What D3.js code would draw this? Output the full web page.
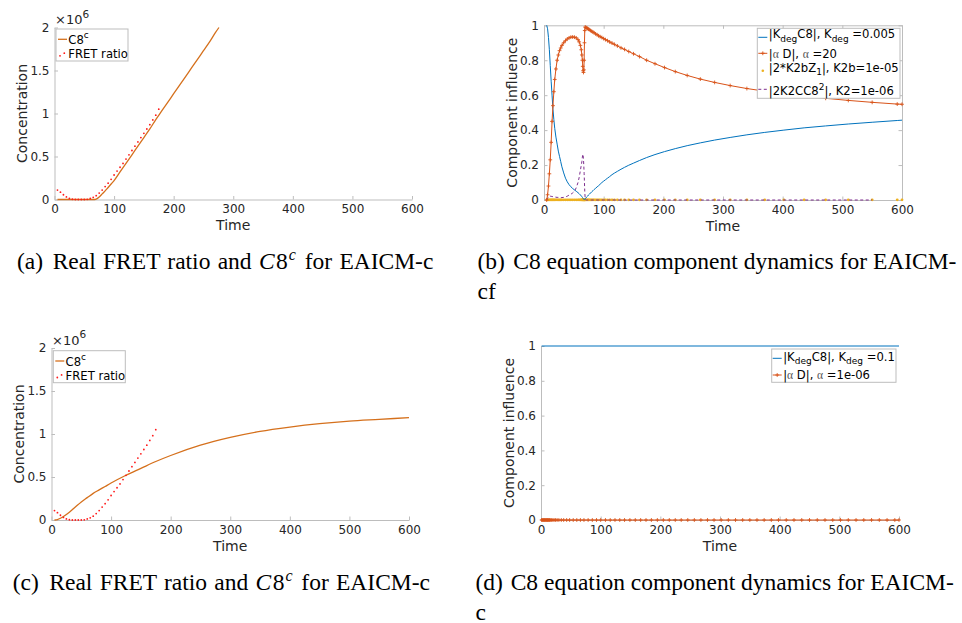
<!DOCTYPE html>
<html>
<head>
<meta charset="utf-8">
<script src="https://cdn.jsdelivr.net/npm/d3@7/dist/d3.min.js"></script>
<style>
  html, body { margin: 0; padding: 0; background: #fff; }
  svg { display: block; }
  .tick text { font-family: "DejaVu Sans", sans-serif; font-size: 12px; fill: #262626; }
  .axlabel { font-family: "DejaVu Sans", sans-serif; font-size: 14px; fill: #262626; }
  .leg { font-family: "DejaVu Sans", sans-serif; font-size: 11.6px; fill: #000; }
  .cap { font-family: "Liberation Serif", "Times New Roman", serif; font-size: 23.5px; fill: #000; }
</style>
</head>
<body>
<svg id="fig" width="962" height="623"></svg>
<script>
// ---- FRET measurements (panels a and c), concentration in units of 1e6
const fretTime = [5,10,15,20,25,30,35,40,45,50,55,60,65,70,75,80,85,90,95,100,105,110,115,120,125,130,135,140,145,150,155,160,165,170,175];
const fretValue = [0.11,0.085,0.055,0.03,0.012,0.003,0,0,0,0,0.002,0.012,0.025,0.045,0.075,0.11,0.15,0.19,0.235,0.285,0.33,0.375,0.42,0.47,0.52,0.57,0.62,0.67,0.72,0.77,0.82,0.87,0.925,0.98,1.05];

// ---- simulated C8c, EAICM-cf fit (panel a)
const c8TimeA = [5,20,40,60,65,68,70,75,80,85,90,95,100,110,120,130,140,150,160,170,180,190,200,210,220,230,240,250,260,270,276];
const c8ValueA = [0,0,0,0,0,0,0.005,0.03,0.065,0.1,0.14,0.18,0.22,0.32,0.42,0.52,0.62,0.72,0.82,0.93,1.03,1.13,1.23,1.33,1.43,1.53,1.63,1.73,1.83,1.94,2.0];

// ---- simulated C8c, EAICM-c fit (panel c)
const c8TimeC = [5,10,15,20,30,40,50,60,70,80,90,100,125,150,175,200,250,300,350,400,450,500,550,600];
const c8ValueC = [0,0.005,0.02,0.04,0.09,0.15,0.21,0.26,0.31,0.35,0.39,0.43,0.52,0.6,0.68,0.75,0.87,0.96,1.03,1.08,1.12,1.15,1.17,1.19];

// ---- C8 equation components, EAICM-cf (panel b), one value per solver step
const compTimeB = [4.5,6,7.5,9,10.5,12,13.5,15,16.5,18,20,22,24,26,28,30,33,36,39,42,45,48,51,54,57,59,61,62.5,63.5,64.3,65,65.6,66.2,66.8,67.3,67.8,68.3,69,
  70,71.5,73,74.5,76,78,80,82,84,86.5,89,91.5,94,97,100,103,106.5,110,114,118,123,129,135,142,150,160,172,186,202,220,240,262,286,312,340,370,402,436,472,510,550,592,600];
const degTermB = [1,0.98,0.93,0.86,0.77,0.68,0.6,0.52,0.46,0.41,0.36,0.32,0.28,0.25,0.22,0.19,0.155,0.125,0.104,0.088,0.076,0.066,0.058,0.05,0.042,0.036,0.029,0.023,0.019,0.015,0.012,0.009,0.006,0.003,0.001,0.002,0.004,0.007,
  0.011,0.017,0.022,0.028,0.033,0.04,0.047,0.053,0.06,0.067,0.075,0.082,0.09,0.1,0.108,0.116,0.125,0.134,0.145,0.154,0.164,0.176,0.187,0.199,0.211,0.226,0.243,0.26,0.277,0.294,0.311,0.327,0.343,0.358,0.373,0.387,0.4,0.413,0.424,0.435,0.445,0.455,0.457];
const alphaTermB = [0,0.03,0.08,0.15,0.23,0.33,0.45,0.54,0.62,0.69,0.75,0.8,0.83,0.855,0.87,0.885,0.9,0.912,0.922,0.928,0.932,0.933,0.932,0.928,0.918,0.905,0.885,0.86,0.83,0.8,0.765,0.74,0.73,0.745,0.8,0.9,0.97,0.99,
  0.988,0.985,0.982,0.978,0.975,0.97,0.966,0.961,0.957,0.951,0.946,0.94,0.935,0.93,0.924,0.918,0.912,0.905,0.898,0.891,0.882,0.871,0.862,0.85,0.837,0.821,0.8,0.78,0.758,0.735,0.713,0.692,0.673,0.655,0.638,0.623,0.609,0.595,0.582,0.57,0.559,0.549,0.548];
const k2bTermB = [0.001,0.001,0.001,0.001,0.001,0.001,0.001,0.001,0.001,0.001,0.001,0.001,0.001,0.001,0.001,0.001,0.001,0.001,0.001,0.001,0.001,0.001,0.001,0.001,0.001,0.001,0.001,0.001,0.001,0.001,0.001,0.001,0.001,0.001,0.001,0.001,0.001,0.001,
  0.001,0.001,0.001,0.001,0.001,0.001,0.001,0.001,0.001,0.001,0.001,0.001,0.001,0.001,0.001,0.001,0.001,0.001,0.001,0.001,0.001,0.001,0.001,0.001,0.001,0.001,0.001,0.001,0.001,0.001,0.001,0.001,0.001,0.001,0.001,0.001,0.001,0.001,0.001,0.001,0.001,0.001,0.001];
const k2TermB = [0,0.01,0.02,0.022,0.022,0.021,0.02,0.019,0.018,0.017,0.016,0.015,0.015,0.014,0.014,0.014,0.015,0.017,0.022,0.028,0.033,0.04,0.05,0.07,0.1,0.13,0.17,0.2,0.22,0.245,0.262,0.255,0.23,0.19,0.15,0.1,0.05,0.01,
  0,0,0,0,0,0,0,0,0,0,0,0,0,0,0,0,0,0,0,0,0,0,0,0,0,0,0,0,0,0,0,0,0,0,0,0,0,0,0,0,0];

// ---- C8 equation components, EAICM-c (panel d)
const compTimeD = [1,2,3,4,5,6,7,8,9,10,11,12,13,14,15,16.5,18,20,22,24.5,27,30,34,38,43,48,54,60,66,72,79,86,93,100,108,116,124,132,140,149,158,167,176,185,195,205,215,225,235,246,257,268,279,290,302,314,326,338,350,362,374,386,398,411,424,437,450,463,476,489,502,515,528,541,554,567,580,593,600];
const degTermD = [1,1,1,1,1,1,1,1,1,1,1,1,1,1,1,1,1,1,1,1,1,1,1,1,1,1,1,1,1,1,1,1,1,1,1,1,1,1,1,1,1,1,1,1,1,1,1,1,1,1,1,1,1,1,1,1,1,1,1,1,1,1,1,1,1,1,1,1,1,1,1,1,1,1,1,1,1,1,1];
const alphaTermD = [0,0,0,0,0,0,0,0,0,0,0,0,0,0,0,0,0,0,0,0,0,0,0,0,0,0,0,0,0,0,0,0,0,0,0,0,0,0,0,0,0,0,0,0,0,0,0,0,0,0,0,0,0,0,0,0,0,0,0,0,0,0,0,0,0,0,0,0,0,0,0,0,0,0,0,0,0,0,0];

// ---- axis ticks
const timeTicks = [0,100,200,300,400,500,600];
const concTicks = [0,0.5,1,1.5,2];
const concTickLabels = ["0","0.5","1","1.5","2"];
const inflTicks = [0,0.2,0.4,0.6,0.8,1];
const inflTickLabels = ["0","0.2","0.4","0.6","0.8","1"];

const COL = {
  blue: "#0072BD", red: "#D95319", yellow: "#EDB120", purple: "#7E2F8E",
  c8: "#D5701C", fret: "#FF1A1A", axis: "#BDBDBD", text: "#262626"
};

const svg = d3.select("#fig");

function makePanel(p) {
  const g = svg.append("g");
  const x = d3.scaleLinear().domain([0, 600]).range([p.x0, p.x1]);
  const y = d3.scaleLinear().domain(p.yDomain).range([p.y1, p.y0]);
  const tick = 3.5;

  const styleAxis = sel => {
    sel.selectAll(".domain").attr("stroke", COL.axis).attr("stroke-width", 1);
    sel.selectAll(".tick line").attr("stroke", COL.axis);
  };

  g.append("g").attr("transform", `translate(0,${p.y1})`)
    .call(d3.axisBottom(x).tickValues(timeTicks).tickSizeInner(-tick).tickSizeOuter(0).tickPadding(5).tickFormat(d3.format("d")))
    .call(styleAxis);
  g.append("g").attr("transform", `translate(${p.x0},0)`)
    .call(d3.axisLeft(y).tickValues(p.yTicks).tickSizeInner(-tick).tickSizeOuter(0).tickPadding(5)
      .tickFormat((d, i) => p.yTickLabels[i]))
    .call(styleAxis);
  if (p.box) {
    g.append("g").attr("transform", `translate(0,${p.y0})`)
      .call(d3.axisTop(x).tickValues(timeTicks).tickSizeInner(-tick).tickSizeOuter(0).tickFormat(""))
      .call(styleAxis);
    g.append("g").attr("transform", `translate(${p.x1},0)`)
      .call(d3.axisRight(y).tickValues(p.yTicks).tickSizeInner(-tick).tickSizeOuter(0).tickFormat(""))
      .call(styleAxis);
  }
  g.selectAll(".tick text").attr("fill", COL.text);

  g.append("text").attr("class", "axlabel")
    .attr("x", (p.x0 + p.x1) / 2).attr("y", p.y1 + 30.5)
    .attr("text-anchor", "middle").text("Time");
  g.append("text").attr("class", "axlabel")
    .attr("transform", `translate(${p.ylabX},${(p.y0 + p.y1) / 2}) rotate(-90)`)
    .attr("text-anchor", "middle").text(p.ylabel);

  if (p.exponent) {
    const t = g.append("text").attr("x", p.x0 + 0.5).attr("y", p.y0 - 3.5)
      .attr("font-family", "DejaVu Sans").attr("font-size", 13).attr("fill", COL.text);
    t.append("tspan").text("×10");
    t.append("tspan").attr("font-size", 10.5).attr("dy", -6.5).text("6");
  }
  return { g, x, y };
}

function lineOf(x, y, curve) {
  return d3.line().x(d => x(d[0])).y(d => y(d[1])).curve(curve || d3.curveMonotoneX);
}
function zip(a, b) { return a.map((v, i) => [v, b[i]]); }

const plus = "M-1.9,0H1.9M0,-1.9V1.9";

// ---------- concentration panels (a) and (c)
function concPanel(p, c8t, c8v) {
  const { g, x, y } = makePanel(Object.assign({
    yDomain: [0, 2], yTicks: concTicks, yTickLabels: concTickLabels,
    ylabel: "Concentration", exponent: true, box: false
  }, p));
  g.append("path").datum(zip(c8t, c8v)).attr("d", lineOf(x, y))
    .attr("fill", "none").attr("stroke", COL.c8).attr("stroke-width", 1.3);
  g.selectAll("circle.fret").data(zip(fretTime, fretValue)).join("circle")
    .attr("class", "fret").attr("cx", d => x(d[0])).attr("cy", d => y(d[1]))
    .attr("r", 0.9).attr("fill", COL.fret);

  // legend
  const L = g.append("g").attr("transform", `translate(${p.legX},${p.legY})`);
  L.append("rect").attr("x", 0).attr("y", 0).attr("width", 72).attr("height", 32)
    .attr("fill", "#fff").attr("stroke", COL.axis).attr("stroke-width", 1);
  L.append("line").attr("x1", 2).attr("x2", 11).attr("y1", 10.3).attr("y2", 10.3)
    .attr("stroke", COL.c8).attr("stroke-width", 1.3);
  const t1 = L.append("text").attr("class", "leg").attr("x", 12.3).attr("y", 15);
  t1.append("tspan").text("C8");
  t1.append("tspan").attr("font-size", 9).attr("dy", -6).text("c");
  L.selectAll("circle").data([[4, 26.8], [8.3, 24.2]]).join("circle")
    .attr("cx", d => d[0]).attr("cy", d => d[1]).attr("r", 0.9).attr("fill", COL.fret);
  L.append("text").attr("class", "leg").attr("x", 12.3).attr("y", 29.3).text("FRET ratio");
}

concPanel({ x0: 54.5, x1: 412, y0: 27.5, y1: 199.5, ylabX: 26.5, legX: 56, legY: 29 }, c8TimeA, c8ValueA);
concPanel({ x0: 51.5, x1: 409, y0: 348, y1: 520, ylabX: 23.5, legX: 53.3, legY: 350.7 }, c8TimeC, c8ValueC);

// ---------- component panels (b) and (d)
function compPanel(p) {
  return makePanel(Object.assign({
    yDomain: [0, 1], yTicks: inflTicks, yTickLabels: inflTickLabels,
    ylabel: "Component influence", exponent: false
  }, p));
}

function legendRow(L, yc, kind) {
  if (kind === "blue") {
    L.append("line").attr("x1", 1).attr("x2", 10).attr("y1", yc).attr("y2", yc).attr("stroke", COL.blue);
  } else if (kind === "red") {
    L.append("line").attr("x1", 1).attr("x2", 10).attr("y1", yc).attr("y2", yc).attr("stroke", COL.red);
    L.append("path").attr("d", plus).attr("transform", `translate(5.5,${yc})`).attr("stroke", COL.red).attr("stroke-width", 0.9);
  } else if (kind === "yellow") {
    L.append("circle").attr("cx", 5.5).attr("cy", yc).attr("r", 1.3).attr("fill", COL.yellow);
  } else if (kind === "purple") {
    L.append("line").attr("x1", 1).attr("x2", 10).attr("y1", yc).attr("y2", yc)
      .attr("stroke", COL.purple).attr("stroke-dasharray", "3,2.5");
  }
}

function subText(t, s) { t.append("tspan").attr("font-size", 9).attr("dy", 3.5).text(s); }

// (b)
{
  const p = { x0: 544, x1: 902, y0: 25.3, y1: 200, ylabX: 516.5, box: true };
  const { g, x, y } = compPanel(p);
  const ln = lineOf(x, y, d3.curveLinear);
  g.selectAll("circle.k2b").data(zip(compTimeB, k2bTermB)).join("circle").attr("class", "k2b")
    .attr("cx", d => x(d[0])).attr("cy", d => y(d[1])).attr("r", 1.4).attr("fill", COL.yellow);
  g.append("path").datum(zip(compTimeB, k2TermB)).attr("d", ln)
    .attr("fill", "none").attr("stroke", COL.purple).attr("stroke-width", 1).attr("stroke-dasharray", "3,2.5");
  g.append("path").datum(zip(compTimeB, degTermB)).attr("d", ln)
    .attr("fill", "none").attr("stroke", COL.blue).attr("stroke-width", 1);
  g.append("path").datum(zip(compTimeB, alphaTermB)).attr("d", ln)
    .attr("fill", "none").attr("stroke", COL.red).attr("stroke-width", 1);
  g.selectAll("path.mk").data(zip(compTimeB, alphaTermB)).join("path").attr("class", "mk")
    .attr("d", plus).attr("transform", d => `translate(${x(d[0])},${y(d[1])})`)
    .attr("stroke", COL.red).attr("stroke-width", 0.9).attr("fill", "none");

  const L = g.append("g").attr("transform", "translate(757.3,28.3)");
  L.append("rect").attr("width", 142.7).attr("height", 70).attr("fill", "#fff").attr("stroke", COL.axis);
  legendRow(L, 9, "blue");
  legendRow(L, 25, "red");
  legendRow(L, 42.4, "yellow");
  legendRow(L, 61, "purple");
  const tx = 11.5;
  let t = L.append("text").attr("class", "leg").attr("x", tx).attr("y", 10);
  t.append("tspan").text("|K");
  subText(t, "deg");
  t.append("tspan").attr("dy", -3.5).text("C8|, K");
  subText(t, "deg");
  t.append("tspan").attr("dy", -3.5).text(" =0.005");
  t = L.append("text").attr("class", "leg").attr("x", tx).attr("y", 30);
  t.append("tspan").text("|");
  t.append("tspan").attr("font-family", "Liberation Serif").attr("fill", "#555").text("α");
  t.append("tspan").text(" D|, ");
  t.append("tspan").attr("font-family", "Liberation Serif").attr("fill", "#555").text("α");
  t.append("tspan").text(" =20");
  t = L.append("text").attr("class", "leg").attr("x", tx).attr("y", 43.4);
  t.append("tspan").text("|2*K2bZ");
  subText(t, "1");
  t.append("tspan").attr("dy", -3.5).text("|, K2b=1e-05");
  t = L.append("text").attr("class", "leg").attr("x", tx).attr("y", 66.7);
  t.append("tspan").text("|2K2CC8");
  t.append("tspan").attr("font-size", 9).attr("dy", -5).text("2");
  t.append("tspan").attr("dy", 5).text("|, K2=1e-06");
}

// (d)
{
  const p = { x0: 541, x1: 899, y0: 346, y1: 520, ylabX: 513.5, box: false };
  const { g, x, y } = compPanel(p);
  const ln = lineOf(x, y, d3.curveLinear);
  g.append("path").datum(zip(compTimeD, degTermD)).attr("d", ln)
    .attr("fill", "none").attr("stroke", COL.blue).attr("stroke-width", 1.2);
  g.append("path").datum(zip(compTimeD, alphaTermD)).attr("d", ln)
    .attr("fill", "none").attr("stroke", COL.red).attr("stroke-width", 1);
  g.selectAll("path.mk").data(zip(compTimeD, alphaTermD)).join("path").attr("class", "mk")
    .attr("d", plus).attr("transform", d => `translate(${x(d[0])},${y(d[1])})`)
    .attr("stroke", COL.red).attr("stroke-width", 0.9).attr("fill", "none");

  const L = g.append("g").attr("transform", "translate(771.7,349)");
  L.append("rect").attr("width", 124.3).attr("height", 33.3).attr("fill", "#fff").attr("stroke", COL.axis);
  legendRow(L, 9.3, "blue");
  legendRow(L, 26, "red");
  const tx = 11.5;
  let t = L.append("text").attr("class", "leg").attr("x", tx).attr("y", 11.7);
  t.append("tspan").text("|K");
  subText(t, "deg");
  t.append("tspan").attr("dy", -3.5).text("C8|, K");
  subText(t, "deg");
  t.append("tspan").attr("dy", -3.5).text(" =0.1");
  t = L.append("text").attr("class", "leg").attr("x", tx).attr("y", 30.3);
  t.append("tspan").text("|");
  t.append("tspan").attr("font-family", "Liberation Serif").attr("fill", "#555").text("α");
  t.append("tspan").text(" D|, ");
  t.append("tspan").attr("font-family", "Liberation Serif").attr("fill", "#555").text("α");
  t.append("tspan").text(" =1e-06");
}

// ---------- sub-figure captions
function caption(tag, xTag, xBody, yBase, parts, line2, wordSpacing) {
  svg.append("text").attr("class", "cap").attr("x", xTag).attr("y", yBase).text(tag);
  const t = svg.append("text").attr("class", "cap").attr("x", xBody).attr("y", yBase)
    .attr("word-spacing", wordSpacing || 0);
  parts.forEach(pt => {
    const s = t.append("tspan").text(pt.t);
    if (pt.it) s.attr("font-style", "italic");
    if (pt.sup) s.attr("font-size", 16).attr("dy", -9);
    if (pt.down) s.attr("dy", 9);
    if (pt.dx) s.attr("dx", pt.dx);
  });
  if (line2) svg.append("text").attr("class", "cap").attr("x", xTag).attr("y", yBase + 29.5).text(line2);
}
const fretCaption = [
  { t: "Real FRET ratio and " }, { t: "C", it: true }, { t: "8", dx: 1.5 },
  { t: "c", it: true, sup: true, dx: 1 }, { t: " for EAICM-c", down: true, dx: 1.5 }
];
caption("(a)", 17, 52.7, 269, fretCaption, null, 1.4);
caption("(b)", 477.5, 513.3, 269, [{ t: "C8 equation component dynamics for EAICM-" }], "cf");
caption("(c)", 12.7, 49.3, 590, fretCaption, null, 1.4);
caption("(d)", 475.5, 510.7, 590, [{ t: "C8 equation component dynamics for EAICM-" }], "c");
</script>
</body>
</html>
